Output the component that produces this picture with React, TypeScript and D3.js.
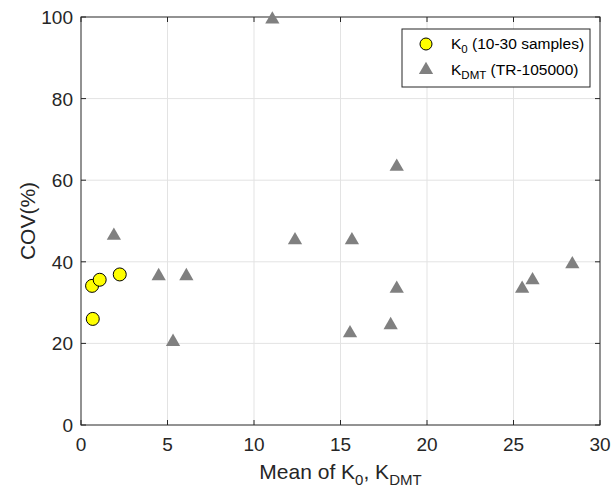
import React from 'react';
import * as d3 from 'd3';

// K0 (10-30 samples): [mean, COV %]
const k0Points: [number, number][] = [
  [0.64, 34.1],
  [1.08, 35.6],
  [2.24, 36.9],
  [0.68, 26.0],
];

// KDMT (TR-105000): [mean, COV %]
const kdmtPoints: [number, number][] = [
  [1.9, 46.4],
  [4.49, 36.5],
  [6.09, 36.5],
  [5.32, 20.4],
  [11.06, 99.4],
  [12.37, 45.3],
  [15.66, 45.3],
  [15.55, 22.5],
  [17.9, 24.5],
  [18.25, 33.4],
  [18.25, 63.3],
  [25.5, 33.4],
  [26.1, 35.5],
  [28.4, 39.4],
];

const xTicks = [0, 5, 10, 15, 20, 25, 30];
const yTicks = [0, 20, 40, 60, 80, 100];

const W = 614;
const H = 495;
const margin = { top: 17, right: 14, bottom: 70, left: 81 };
const font = '"Liberation Sans", Arial, Helvetica, sans-serif';
const axisColor = '#262626';

const App = () => {
  const x = d3.scaleLinear().domain([0, 30]).range([margin.left, W - margin.right]);
  const y = d3.scaleLinear().domain([0, 100]).range([H - margin.bottom, margin.top]);
  const [x0, x1] = x.range();
  const [y0, y1] = y.range();
  const tri = d3.symbol().type(d3.symbolTriangle).size(88)();
  const tickLen = 5;

  return (
    <svg width={W} height={H} style={{ position: 'absolute', left: 0, top: 0, background: '#fff' }}>
      <rect x={0} y={0} width={W} height={H} fill="#fff" />
      {/* grid */}
      {xTicks.slice(1, -1).map(t => (
        <line key={'gx' + t} x1={x(t)} x2={x(t)} y1={y1} y2={y0} stroke="#e3e3e3" strokeWidth={1} />
      ))}
      {yTicks.slice(1, -1).map(t => (
        <line key={'gy' + t} x1={x0} x2={x1} y1={y(t)} y2={y(t)} stroke="#e3e3e3" strokeWidth={1} />
      ))}
      {/* ticks */}
      {xTicks.map(t => (
        <g key={'tx' + t}>
          <line x1={x(t)} x2={x(t)} y1={y0} y2={y0 - tickLen} stroke={axisColor} />
          <line x1={x(t)} x2={x(t)} y1={y1} y2={y1 + tickLen} stroke={axisColor} />
          <text x={x(t)} y={y0 + 26} textAnchor="middle" fontFamily={font} fontSize={19} fill={axisColor}>{t}</text>
        </g>
      ))}
      {yTicks.map(t => (
        <g key={'ty' + t}>
          <line x1={x0} x2={x0 + tickLen} y1={y(t)} y2={y(t)} stroke={axisColor} />
          <line x1={x1} x2={x1 - tickLen} y1={y(t)} y2={y(t)} stroke={axisColor} />
          <text x={x0 - 8} y={y(t) + 7} textAnchor="end" fontFamily={font} fontSize={19} fill={axisColor}>{t}</text>
        </g>
      ))}
      <rect x={x0} y={y1} width={x1 - x0} height={y0 - y1} fill="none" stroke={axisColor} strokeWidth={1} />

      {/* data */}
      {k0Points.map(([a, b], i) => (
        <circle key={'c' + i} cx={x(a)} cy={y(b)} r={6.5} fill="#ffff00" stroke="#000" strokeWidth={1} />
      ))}
      {kdmtPoints.map(([a, b], i) => (
        <path key={'t' + i} d={tri} transform={`translate(${x(a)},${y(b)})`} fill="#808080" />
      ))}

      {/* axis labels */}
      <text x={(x0 + x1) / 2} y={479} textAnchor="middle" fontFamily={font} fontSize={21} fill={axisColor}>
        Mean of K<tspan fontSize={15} dy={6}>0</tspan><tspan dy={-6}>, K</tspan><tspan fontSize={15} dy={6}>DMT</tspan>
      </text>
      <text transform={`translate(35,${(y0 + y1) / 2}) rotate(-90)`} textAnchor="middle" fontFamily={font} fontSize={21} fill={axisColor}>
        COV(%)
      </text>

      {/* legend */}
      <g>
        <rect x={402} y={29} width={188} height={58} fill="#fff" stroke={axisColor} strokeWidth={1} />
        <circle cx={426} cy={44} r={6} fill="#ffff00" stroke="#000" strokeWidth={1} />
        <text x={451} y={49} fontFamily={font} fontSize={15.5} fill="#000">
          K<tspan fontSize={11.5} dy={4}>0</tspan><tspan dy={-4}> (10-30 samples)</tspan>
        </text>
        <path d={tri} transform="translate(426,70)" fill="#808080" />
        <text x={451} y={75} fontFamily={font} fontSize={15.5} fill="#000">
          K<tspan fontSize={11.5} dy={4}>DMT</tspan><tspan dy={-4}> (TR-105000)</tspan>
        </text>
      </g>
    </svg>
  );
};

export default App;
